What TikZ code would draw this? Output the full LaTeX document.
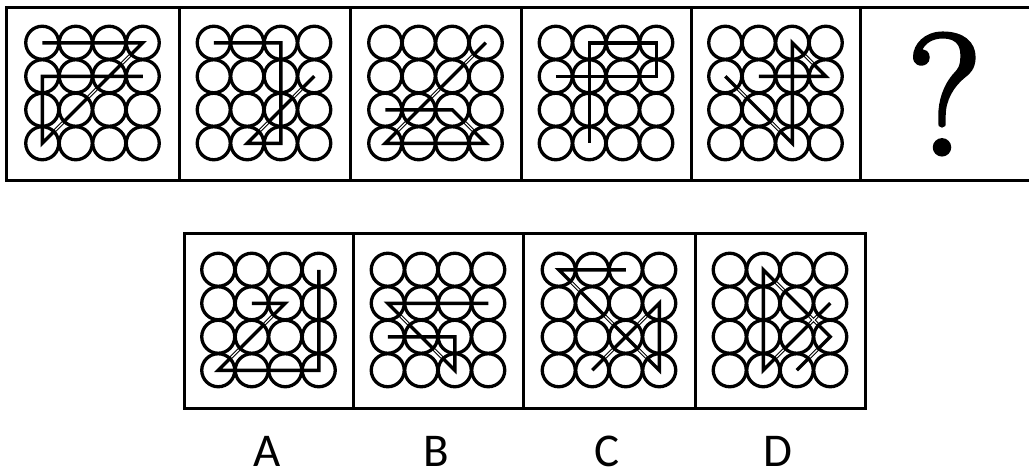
\documentclass[tikz,border=0pt]{standalone}
\usepackage{fontspec}
\newfontfamily\labfont{Carlito}
\newfontfamily\qfont[FakeBold=2.5]{Latin Modern Roman}
\usetikzlibrary{calc}
\tikzset{
  frameline/.style={line width=3pt},
  circ/.style={line width=3.3pt},
  fig/.style={line width=3.5pt, line join=miter},
  gapline/.style={white, line width=1.2pt},
  lab/.style={font=\labfont\fontsize{47}{47}\selectfont, anchor=base, inner sep=0pt},
}
\newcommand\puzzlepanel[3]{%
  \begin{scope}[shift={(#1-50.25,#2-50.25)}, x=33.5pt, y=-33.5pt]
    \foreach \i in {0,...,3}{\foreach \j in {0,...,3}{\draw[circ] (\i,\j) circle[radius=16.5pt];}}
    #3
  \end{scope}}
\newcommand\gaps[3]{%
  \foreach \i in {1,...,#3}{%
    \pgfmathsetmacro\lo{(\i-0.5-0.11)/#3}%
    \pgfmathsetmacro\hi{(\i-0.5+0.11)/#3}%
    \draw[gapline] ($(#1)!\lo!(#2)$) -- ($(#1)!\hi!(#2)$);}}
\begin{document}
\begin{tikzpicture}[x=1pt, y=-1pt]
\useasboundingbox (0,0) rectangle (1029,474);
% top row frame
\draw[frameline] (1030,7) -- (6,7) -- (6,180) -- (1030,180);
\foreach \xx in {179,350,521,691,860}{\draw[frameline] (\xx,7) -- (\xx,180);}
% bottom row frame
\draw[frameline] (184,233) rectangle (865,408);
\foreach \xx in {353,523,695}{\draw[frameline] (\xx,233) -- (\xx,408);}
% top panels
\puzzlepanel{92.5}{93}{\draw[fig] (0,0) -- (3,0) -- (0,3) -- (0,1) -- (3,1); \gaps{3,0}{0,3}{3}}
\puzzlepanel{264}{93}{\draw[fig] (0,0) -- (2,0) -- (2,3) -- (1,3) -- (3,1); \gaps{1,3}{3,1}{2}}
\puzzlepanel{435.5}{93}{\draw[fig] (0,2) -- (2,2) -- (3,3) -- (0,3) -- (3,0); \gaps{2,2}{3,3}{1}\gaps{0,3}{3,0}{3}}
\puzzlepanel{606}{93}{\draw[fig] (0,1) -- (3,1) -- (3,0) -- (1,0) -- (1,3);}
\puzzlepanel{775.5}{93}{\draw[fig] (1,1) -- (3,1) -- (2,0) -- (2,3) -- (0,1); \gaps{3,1}{2,0}{1}\gaps{2,3}{0,1}{2}}
\node[font=\qfont\fontsize{172}{172}\selectfont, inner sep=0pt] (q) at (944.5,94) {?};
% answer panels
\puzzlepanel{268.5}{320}{\draw[fig] (3,0) -- (3,3) -- (0,3) -- (2,1) -- (1,1); \gaps{0,3}{2,1}{2}}
\puzzlepanel{438}{320}{\draw[fig] (3,1) -- (0,1) -- (2,3) -- (2,2) -- (0,2); \gaps{0,1}{2,3}{2}}
\puzzlepanel{609}{320}{\draw[fig] (2,0) -- (0,0) -- (3,3) -- (3,1) -- (1,3); \gaps{0,0}{3,3}{3}\gaps{3,1}{1,3}{2}}
\puzzlepanel{780}{320}{\draw[fig] (2,3) -- (3,2) -- (1,0) -- (1,3) -- (3,1); \gaps{2,3}{3,2}{1}\gaps{3,2}{1,0}{2}\gaps{1,3}{3,1}{2}}
% labels
\node[lab] (la) at (267,466) {A};
\node[lab] (lb) at (436,466) {B};
\node[lab] (lc) at (607,466) {C};
\node[lab] (ld) at (778,466) {D};
\end{tikzpicture}
\end{document}
